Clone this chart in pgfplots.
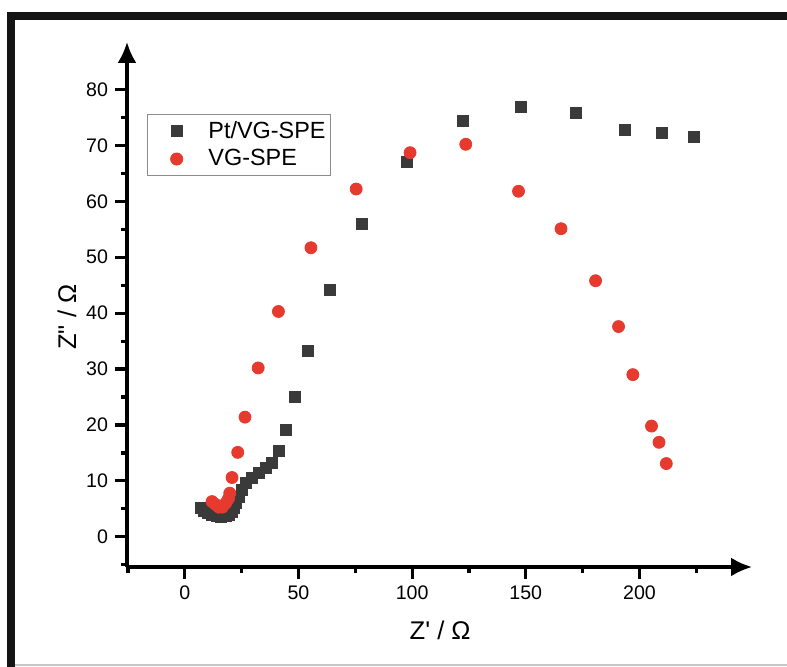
\documentclass[border=0pt]{standalone}
\usepackage{fontspec}
\setmainfont{Liberation Sans}
\usepackage{pgfplots}
\pgfplotsset{compat=1.18}
\usetikzlibrary{arrows.meta}
\definecolor{ptgray}{RGB}{58,58,58}
\definecolor{vgred}{RGB}{231,58,47}
\definecolor{framebk}{RGB}{20,20,20}
\begin{document}
\begin{tikzpicture}
\path[use as bounding box] (-63.5pt,-50pt) rectangle (330pt,283.5pt);
\fill[white] (-63.5pt,-50pt) rectangle (330pt,283.5pt);
% frame of the screenshot
\fill[framebk] (-60pt,277.5pt) rectangle (330pt,273.5pt);
\fill[framebk] (-60pt,277.5pt) rectangle (-56pt,-50pt);
\draw[gray!45, line width=0.6pt] (-56pt,-49pt) -- (330pt,-49pt);
\begin{axis}[
  at={(0pt,0pt)}, anchor=south west,
  scale only axis, width=312.5pt, height=262.5pt,
  xmin=-25.4, xmax=249.5, ymin=-5.4, ymax=88.5,
  axis lines=left,
  axis line style={line width=1.6pt, -{Latex[length=10.5pt,width=9.5pt]}},
  xtick={0,50,...,200}, ytick={0,10,...,80},
  minor xtick={-25,25,75,125,175,225}, minor ytick={-5,5,...,75},
  tick align=outside, major tick length=6pt, minor tick length=3pt,
  every tick/.style={black, line width=1.6pt},
  tick label style={font=\fontsize{9.8}{10}\selectfont},
  /pgf/number format/assume math mode=true,
  xlabel={Z\textquotesingle{} / Ω},
  ylabel={Z\textquotedbl{} / Ω},
  label style={font=\fontsize{12.8}{14}\selectfont},
  xlabel style={at={(axis description cs:0.501,-0.12)}, anchor=center},
  ylabel style={at={(axis description cs:-0.096,0.476)}, anchor=center},
  legend style={at={(axis description cs:0.032,0.863)}, anchor=north west,
    draw=gray!90, line width=0.5pt, font=\fontsize{11.7}{14}\selectfont,
    inner xsep=0.5pt, inner ysep=1.5pt, row sep=0pt},
  legend image code/.code={%
    \path[draw=none, fill=none] (0pt,0pt) -- (28pt,0pt);
    \draw[#1] plot coordinates {(14.1pt,0pt)};},
  legend cell align=left,
  clip=false,
]
\addplot[only marks, mark=square*, mark size=2.75pt, ptgray] coordinates {
  (7,5.2) (8.5,4.6) (10,4.2) (12,3.9) (14,3.7) (16,3.6) (18,3.7) (19.5,4.0)
  (20.6,4.5) (21.6,5.1) (22.4,6.0) (23.8,7.2) (25.3,8.4) (26.8,9.6)
  (29.7,10.6) (32.6,11.4) (35.5,12.3) (38.5,13.3) (41.4,15.4) (44.3,19.1)
  (48.4,25.0) (54.2,33.3) (63.7,44.1) (78.1,56.0) (97.8,67.0) (122.5,74.4)
  (147.8,76.8) (171.9,75.8) (193.4,72.8) (210,72.3) (224,71.6)
};
\addlegendentry{Pt/VG-SPE}
\addplot[only marks, mark=*, mark size=3pt, vgred] coordinates {
  (12,6.3) (13.5,5.8) (15,5.3) (16.5,5.3) (18,6.0) (19.2,6.8) (19.8,7.8)
  (20.8,10.6) (23.3,15.1) (26.5,21.4) (32.3,30.2) (41.2,40.3) (55.5,51.7)
  (75.4,62.2) (99.1,68.7) (123.6,70.2) (146.8,61.8) (165.5,55.1)
  (180.7,45.8) (190.8,37.6) (197.1,29.0) (205.3,19.8) (208.6,16.9)
  (211.8,13.1)
};
\addlegendentry{VG-SPE}
\end{axis}
\end{tikzpicture}
\end{document}
